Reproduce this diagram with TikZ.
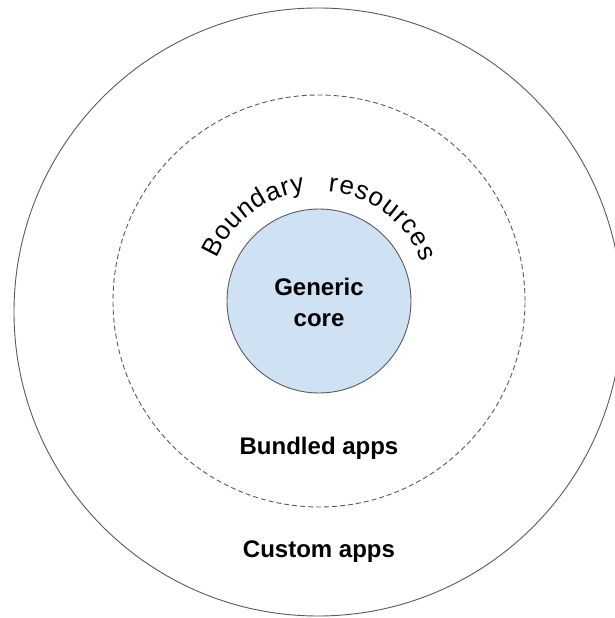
\documentclass[tikz,border=0pt]{standalone}
\usepackage{fontspec}
\setmainfont{Liberation Sans}
\usetikzlibrary{decorations.text,calc}
\definecolor{corefill}{HTML}{CFE2F3}
\definecolor{ringline}{HTML}{5A5A5A}
\begin{document}
\begin{tikzpicture}[x=1pt,y=1pt,
  ring/.style={draw=ringline,line width=0.9pt},
  label/.style={font=\fontsize{24}{31}\selectfont\bfseries,anchor=base,inner sep=0pt},
  arctext/.style={decorate,decoration={text along path,
     text align=fit to path,
     text format delimiters={|}{|},
     text={|\fontsize{26}{26}\selectfont|#1}}}]
\useasboundingbox (0,0) rectangle (615,618);
\fill[white] (0,0) rectangle (615,618);
\coordinate (c) at (319,317);
\coordinate (tc) at (318.5,316);
\draw[ring] (318,306) circle[radius=304];
\draw[ring,dash pattern=on 5pt off 3pt] (c) circle[radius=206];
\node[ring,circle,fill=corefill,minimum size=184pt,inner sep=0pt] (core) at (c) {};
\node[label,align=center,anchor=center] (coretext) at ($(c)+(0,-1)$) {Generic\\core};
\node[label] (bundled) at (319,163) {Bundled apps};
\node[label] (custom) at (319,60) {Custom apps};
\path[arctext=Boundary] ($(tc)+(157:111)$) arc[start angle=157,end angle=97,radius=111];
\path[arctext=resources] ($(tc)+(85:111)$) arc[start angle=85,end angle=21,radius=111];
\end{tikzpicture}
\end{document}
